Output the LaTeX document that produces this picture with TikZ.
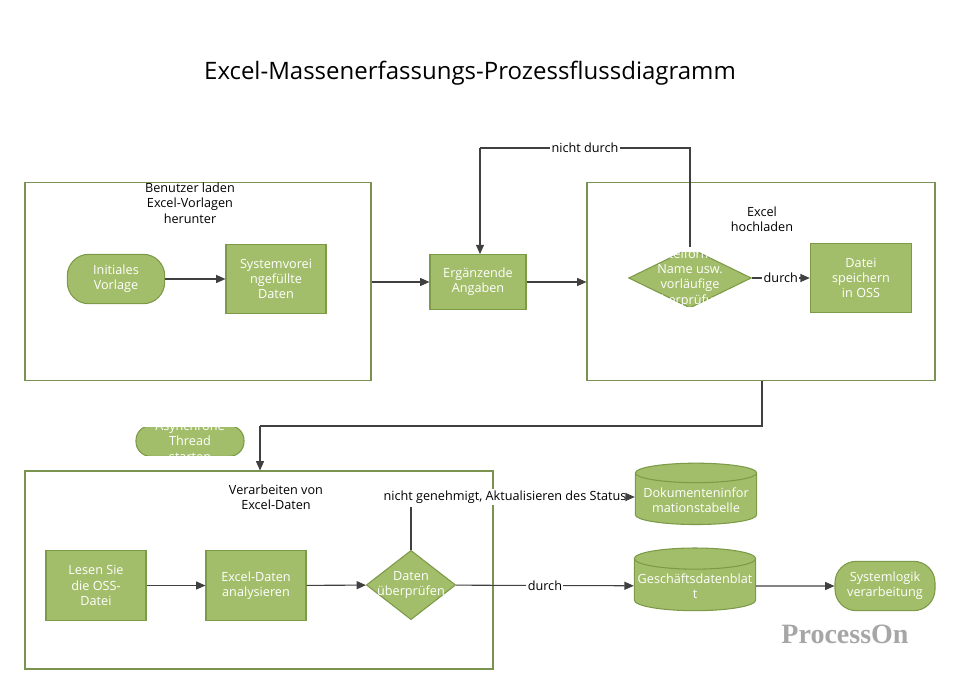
\documentclass[tikz,border=0pt]{standalone}
\usepackage{fontspec}
\setmainfont{Open Sans}
\usetikzlibrary{shapes.geometric,arrows.meta}
\definecolor{gf}{HTML}{A3BE6A}
\definecolor{gb}{HTML}{7C9A48}
\definecolor{fr}{HTML}{7A9450}
\definecolor{ln}{HTML}{404040}
\begin{document}
\begin{tikzpicture}[x=0.75pt,y=-0.75pt,
 fs/.style={font=\fontsize{9.5}{11.5}\selectfont},
 proc/.style={draw=gb,fill=gf,text=white,fs,align=center,minimum width=75pt,minimum height=52pt,line width=0.8pt},
 term/.style={draw=gb,fill=gf,text=white,fs,align=center,rounded corners=16pt,minimum width=73pt,minimum height=37pt,line width=0.8pt},
 dec/.style={diamond,draw=gb,fill=gf,text=white,fs,align=center,inner sep=0pt,line width=0.8pt},
 cyl/.style={cylinder,shape border rotate=90,aspect=0.18,draw=gb,fill=gf,text=white,fs,align=center,minimum width=91pt,minimum height=46pt,inner sep=1pt,line width=0.8pt},
 frame/.style={draw=fr,line width=0.8pt},
 lbl/.style={fs,text=black,align=center},
 arr/.style={draw=ln,line width=0.8pt,-{Triangle[length=7pt,width=6pt]}},
 ln/.style={draw=ln,line width=0.8pt}]
\useasboundingbox (0,0) rectangle (960,695);
\node[font=\fontsize{18}{22}\selectfont] (title) at (470,73) {Excel-Massenerfassungs-Prozessflussdiagramm};
% frames
\node[frame,minimum width=259.5pt,minimum height=149pt,inner sep=0pt] (b1) at (198,281.5) {};
\node[frame,minimum width=261pt,minimum height=149pt,inner sep=0pt] (b2) at (761,281.5) {};
\node[frame,minimum width=351pt,minimum height=148.5pt,inner sep=0pt] (b3) at (259,570) {};
\node[lbl] (l1) at (190,203) {Benutzer laden\\Excel-Vorlagen\\herunter};
\node[lbl] (l2) at (762,219) {Excel\\hochladen};
\node[lbl] (l3) at (276,497) {Verarbeiten von\\Excel-Daten};
% nodes
\node[term] (iv) at (116,279) {Initiales\\Vorlage};
\node[proc] (sv) at (276,279) {Systemvorei\\ngefüllte\\Daten};
\node[proc,minimum width=72pt,minimum height=41pt] (ea) at (478,282) {Ergänzende\\Angaben};
\node[dec,minimum width=92pt,minimum height=45pt] (dp) at (690,278) {};
\node[fs,text=white,align=center] (dpt) at (690,278) {Dateiformat,\\Name usw.\\vorläufige\\Überprüfung};
\node[fill=white,minimum width=12pt,minimum height=18pt,inner sep=0pt] (m1) at (690,240) {};
\node[fill=white,minimum width=10pt,minimum height=17pt,inner sep=0pt] (m2) at (690,318) {};
\node[proc,minimum width=76pt] (ds) at (861,278) {Datei\\speichern\\in OSS};
\node[term,minimum width=81pt,minimum height=23pt,rounded corners=11pt] (at) at (190,441) {};
\node[fs,text=white,align=center] (att) at (190,441) {Asynchrone\\Thread\\starten};
\node[fill=white,minimum width=120pt,minimum height=11pt,inner sep=0pt] (m3) at (190,420) {};
\node[fill=white,minimum width=90pt,minimum height=10pt,inner sep=0pt] (m4) at (190,463) {};
\node[proc,minimum height=53pt] (ls) at (96,585.5) {Lesen Sie\\die OSS-\\Datei};
\node[proc,minimum height=53pt] (ed) at (256,585.5) {Excel-Daten\\analysieren};
\node[dec,minimum width=67pt,minimum height=52pt] (du) at (411,585) {};
\node[fs,text=white,align=center] (dut) at (411,585) {Daten\\überprüfen};
\node[cyl] (dt) at (696,500) {Dokumenteninfor\\mationstabelle};
\node[cyl,minimum height=47pt] (gd) at (695,586) {Geschäftsdatenblat\\t};
\node[term,minimum width=75pt] (sl) at (885,586) {Systemlogik\\verarbeitung};
\node[font=\fontsize{21}{24}\selectfont\bfseries,text=gray!70] (po) at (845,634) {\fontspec{Liberation Serif}\bfseries ProcessOn};
% edges
\draw[arr] (iv) -- (sv);
\draw[arr] (b1.east |- ea) -- (ea);
\draw[arr] (ea) -- (b2.west |- ea);
\draw[ln] (dp.north) -- (690,148) -- node[fill=white,lbl,inner sep=1pt]{nicht durch} (480,148);
\coordinate (c1) at (480,148);
\draw[arr] (c1) -- (ea.north -| c1);
\draw[arr] (dp) -- node[fill=white,lbl,inner sep=1pt]{durch} (ds);
\coordinate (c2) at (762,426);
\coordinate (c3) at (260,426);
\draw[ln] (b2.south -| c2) -- (c2) -- (c3);
\draw[arr] (c3) -- (b3.north -| c3);
\draw[arr] (ls) -- (ed);
\draw[arr] (ed) -- (du);
\coordinate (c4) at (411,507);
\draw[ln] (du.north) -- (c4);
\node[lbl,fill=white,inner sep=1pt] (ng) at (505,497) {nicht genehmigt, Aktualisieren des Status};
\draw[arr] (ng.east) -- (dt.west |- ng);
\draw[arr] (du) -- node[fill=white,lbl,inner sep=1pt]{durch} (gd);
\draw[arr] (gd) -- (sl);
\end{tikzpicture}
\end{document}
